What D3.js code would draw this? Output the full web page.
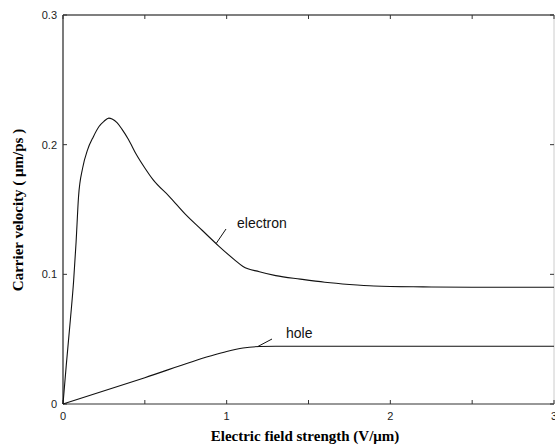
<!DOCTYPE html>
<html lang="en">
    <head>
        <title>carrier velocity</title>
        <meta charset="UTF-8">
        <script src="https://cdn.jsdelivr.net/npm/d3@7"></script>
    </head>
    <body style="margin:0; background:#fff;">
        <style>
            .tick-label { font-family: "Liberation Sans", Arial, sans-serif; font-size: 11px; fill: #222; }
            .axis-title { font-family: "Liberation Serif", "Times New Roman", serif; font-size: 15px; font-weight: bold; fill: #000; }
            .note { font-family: "Liberation Sans", Arial, sans-serif; font-size: 14px; fill: #111; }
        </style>
        <div id="root"></div>
<script>

var width = 555
var height = 448

// electron drift velocity
var electronField = [0, 0.02, 0.045, 0.065, 0.08, 0.095, 0.12, 0.15, 0.185, 0.22, 0.25, 0.28, 0.3, 0.33, 0.36, 0.4, 0.45, 0.5, 0.55, 0.65, 0.75, 0.85, 0.95, 1.05, 1.1, 1.2, 1.3, 1.45, 1.6, 1.75, 1.9, 2.2, 2.5, 3]
var electronVel = [0, 0.03, 0.065, 0.095, 0.125, 0.16, 0.182, 0.196, 0.206, 0.214, 0.218, 0.2205, 0.2198, 0.217, 0.212, 0.204, 0.192, 0.182, 0.173, 0.16, 0.146, 0.134, 0.122, 0.111, 0.106, 0.102, 0.099, 0.0963, 0.0939, 0.0922, 0.091, 0.0903, 0.09, 0.09]

// hole drift velocity
var holeField = [0, 0.5, 0.9, 1.0, 1.1, 1.2, 1.3, 3]
var holeVel = [0, 0.0203, 0.037, 0.0405, 0.0432, 0.0443, 0.0445, 0.0445]

var xTicks = [0, 0.5, 1, 1.5, 2, 2.5, 3]
var xTickLabels = ['0', '', '1', '', '2', '', '3']
var yTicks = [0, 0.1, 0.2, 0.3]
var yTickLabels = ['0', '0.1', '0.2', '0.3']

// plot box (window.top is reserved, so prefixed names)
var pLeft = 63, pRight = 554, pTop = 15, pBottom = 404

var x = d3.scaleLinear().domain([0, 3]).range([pLeft, pRight])
var y = d3.scaleLinear().domain([0, 0.3]).range([pBottom, pTop])

var svg = d3.select('#root')
            .append('svg')
            .attr('width', width)
            .attr('height', height)

// frame
svg.append('line').attr('x1', pLeft).attr('x2', pRight).attr('y1', pTop).attr('y2', pTop)
    .attr('stroke', '#555').attr('stroke-width', 1.5)
svg.append('line').attr('x1', pLeft).attr('x2', pRight).attr('y1', pBottom).attr('y2', pBottom)
    .attr('stroke', '#333').attr('stroke-width', 1.2)
svg.append('line').attr('x1', pLeft).attr('x2', pLeft).attr('y1', pTop).attr('y2', pBottom)
    .attr('stroke', '#222').attr('stroke-width', 1.2)
svg.append('line').attr('x1', pRight).attr('x2', pRight).attr('y1', pTop).attr('y2', pBottom)
    .attr('stroke', '#ccc').attr('stroke-width', 1)

// ticks, pointing inward on all four sides
var tickLen = 4
xTicks.forEach(function(t){
    svg.append('line').attr('x1', x(t)).attr('x2', x(t)).attr('y1', pBottom).attr('y2', pBottom - tickLen)
        .attr('stroke', '#333')
    svg.append('line').attr('x1', x(t)).attr('x2', x(t)).attr('y1', pTop).attr('y2', pTop + tickLen)
        .attr('stroke', '#333')
})
yTicks.forEach(function(t){
    svg.append('line').attr('x1', pLeft).attr('x2', pLeft + tickLen).attr('y1', y(t)).attr('y2', y(t))
        .attr('stroke', '#333')
    svg.append('line').attr('x1', pRight).attr('x2', pRight - tickLen).attr('y1', y(t)).attr('y2', y(t))
        .attr('stroke', '#333')
})

svg.selectAll('.xlab')
    .data(xTicks)
    .enter()
    .append('text')
        .attr('class', 'tick-label')
        .attr('x', function(d){ return x(d) })
        .attr('y', 420)
        .attr('text-anchor', 'middle')
        .text(function(d, i){ return xTickLabels[i] })

svg.selectAll('.ylab')
    .data(yTicks)
    .enter()
    .append('text')
        .attr('class', 'tick-label')
        .attr('x', 57)
        .attr('y', function(d){ return y(d) + 4 })
        .attr('text-anchor', 'end')
        .text(function(d, i){ return yTickLabels[i] })

// axis titles
svg.append('text')
    .attr('class', 'axis-title')
    .attr('x', 305)
    .attr('y', 441)
    .attr('text-anchor', 'middle')
    .text('Electric field strength (V/\u03bcm)')

svg.append('text')
    .attr('class', 'axis-title')
    .attr('transform', 'translate(23,210) rotate(-90)')
    .attr('text-anchor', 'middle')
    .text('Carrier velocity ( \u03bcm/ps )')

// curves
var line = d3.line()
    .x(function(d){ return x(d[0]) })
    .y(function(d){ return y(d[1]) })
    .curve(d3.curveMonotoneX)

svg.append('path')
    .datum(d3.zip(electronField, electronVel))
    .attr('d', line)
    .attr('fill', 'none')
    .attr('stroke', '#111')
    .attr('stroke-width', 1.1)

svg.append('path')
    .datum(d3.zip(holeField, holeVel))
    .attr('d', line)
    .attr('fill', 'none')
    .attr('stroke', '#111')
    .attr('stroke-width', 1.1)

// labels with leader lines
svg.append('line').attr('x1', 226).attr('y1', 229).attr('x2', x(0.937)).attr('y2', y(0.124))
    .attr('stroke', '#111')
svg.append('text').attr('class', 'note').attr('x', 237).attr('y', 228).text('electron')

svg.append('line').attr('x1', 272).attr('y1', 339).attr('x2', x(1.19)).attr('y2', y(0.0443))
    .attr('stroke', '#111')
svg.append('text').attr('class', 'note').attr('x', 286).attr('y', 338).text('hole')

</script>
    </body>
</html>
